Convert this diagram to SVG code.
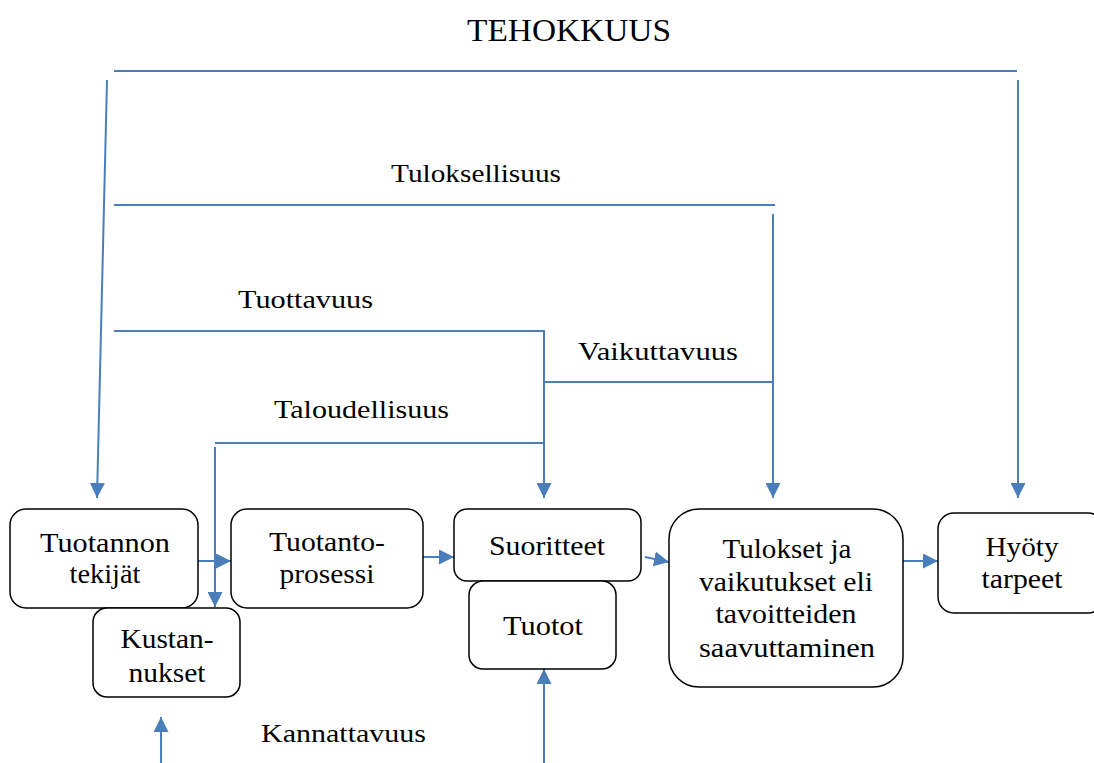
<svg xmlns="http://www.w3.org/2000/svg" width="1094" height="763" viewBox="0 0 1094 763">
  <style>
    .ln { stroke: #4a7ebb; stroke-width: 2; fill: none; }
    .box { fill: #ffffff; stroke: #000000; stroke-width: 1.5; }
    text { font-family: "Liberation Serif", "DejaVu Serif", serif; fill: #000000; }
    .lbl { font-size: 26px; }
    .nt { font-size: 27px; text-anchor: middle; }
    .title { font-size: 32px; }
  </style>
  <defs>
    <marker id="arr" viewBox="0 0 15 15" refX="15" refY="7.5" markerWidth="15" markerHeight="15" markerUnits="userSpaceOnUse" orient="auto">
      <path d="M0,0 L15,7.5 L0,15 Z" fill="#4a7ebb"/>
    </marker>
  </defs>

  <rect width="1094" height="763" fill="#ffffff"/>

  <!-- measure labels -->
  <g id="labels">
    <text class="title" x="467" y="41" textLength="204" lengthAdjust="spacingAndGlyphs">TEHOKKUUS</text>
    <text class="lbl" x="391" y="182" textLength="170" lengthAdjust="spacingAndGlyphs">Tuloksellisuus</text>
    <text class="lbl" x="238" y="308" textLength="135" lengthAdjust="spacingAndGlyphs">Tuottavuus</text>
    <text class="lbl" x="578" y="360" textLength="160" lengthAdjust="spacingAndGlyphs">Vaikuttavuus</text>
    <text class="lbl" x="274" y="418" textLength="175" lengthAdjust="spacingAndGlyphs">Taloudellisuus</text>
    <text class="lbl" x="261" y="742" textLength="165" lengthAdjust="spacingAndGlyphs">Kannattavuus</text>
  </g>

  <!-- connectors -->
  <g id="connectors">
    <!-- Tehokkuus -->
    <line class="ln" x1="114" y1="71" x2="1017" y2="71"/>
    <line class="ln" x1="107" y1="80" x2="97" y2="498" marker-end="url(#arr)"/>
    <line class="ln" x1="1018" y1="80" x2="1018" y2="498" marker-end="url(#arr)"/>
    <!-- Tuloksellisuus -->
    <line class="ln" x1="114" y1="205" x2="775" y2="205"/>
    <line class="ln" x1="773" y1="214" x2="773" y2="498" marker-end="url(#arr)"/>
    <!-- Tuottavuus -->
    <polyline class="ln" points="114,331 544,331 544,498" marker-end="url(#arr)"/>
    <!-- Vaikuttavuus -->
    <line class="ln" x1="544" y1="382" x2="773" y2="382"/>
    <!-- Taloudellisuus -->
    <line class="ln" x1="215" y1="443" x2="544" y2="443"/>
    <line class="ln" x1="215" y1="447" x2="215" y2="607" marker-end="url(#arr)"/>
    <!-- process flow -->
    <line class="ln" x1="198" y1="561" x2="231" y2="561" marker-end="url(#arr)"/>
    <line class="ln" x1="423" y1="557" x2="454" y2="557" marker-end="url(#arr)"/>
    <line class="ln" x1="645" y1="557" x2="669" y2="562" marker-end="url(#arr)"/>
    <line class="ln" x1="903" y1="561" x2="938" y2="561" marker-end="url(#arr)"/>
    <!-- Kannattavuus -->
    <line class="ln" x1="161" y1="763" x2="161" y2="717" marker-end="url(#arr)"/>
    <line class="ln" x1="544" y1="763" x2="544" y2="669" marker-end="url(#arr)"/>
  </g>

  <g id="tuotannon-tekijat">
    <rect class="box" x="10" y="509" width="188" height="99" rx="16"/>
    <text class="nt" x="105" y="552" textLength="130" lengthAdjust="spacingAndGlyphs">Tuotannon</text>
    <text class="nt" x="105" y="583" textLength="71" lengthAdjust="spacingAndGlyphs">tekijät</text>
  </g>

  <g id="tuotantoprosessi">
    <rect class="box" x="231" y="509" width="192" height="99" rx="16"/>
    <text class="nt" x="327" y="551" textLength="116" lengthAdjust="spacingAndGlyphs">Tuotanto-</text>
    <text class="nt" x="327" y="583" textLength="95" lengthAdjust="spacingAndGlyphs">prosessi</text>
  </g>

  <g id="kustannukset">
    <rect class="box" x="93" y="608" width="147" height="89" rx="14"/>
    <text class="nt" x="167" y="648" textLength="93" lengthAdjust="spacingAndGlyphs">Kustan-</text>
    <text class="nt" x="167" y="682" textLength="77" lengthAdjust="spacingAndGlyphs">nukset</text>
  </g>

  <g id="suoritteet">
    <rect class="box" x="454" y="509" width="187" height="72" rx="13"/>
    <text class="nt" x="547" y="555" textLength="116" lengthAdjust="spacingAndGlyphs">Suoritteet</text>
  </g>

  <g id="tuotot">
    <rect class="box" x="469" y="581" width="147" height="88" rx="14"/>
    <text class="nt" x="543" y="635" textLength="80" lengthAdjust="spacingAndGlyphs">Tuotot</text>
  </g>

  <g id="tulokset">
    <rect class="box" x="669" y="509" width="234" height="178" rx="30"/>
    <text class="nt" x="787" y="558" textLength="129" lengthAdjust="spacingAndGlyphs">Tulokset ja</text>
    <text class="nt" x="786" y="591" textLength="174" lengthAdjust="spacingAndGlyphs">vaikutukset eli</text>
    <text class="nt" x="786" y="623" textLength="141" lengthAdjust="spacingAndGlyphs">tavoitteiden</text>
    <text class="nt" x="787" y="657" textLength="176" lengthAdjust="spacingAndGlyphs">saavuttaminen</text>
  </g>

  <g id="hyoty">
    <rect class="box" x="938" y="513" width="166" height="100" rx="16"/>
    <text class="nt" x="1022" y="556" textLength="73" lengthAdjust="spacingAndGlyphs">Hyöty</text>
    <text class="nt" x="1022" y="588" textLength="81" lengthAdjust="spacingAndGlyphs">tarpeet</text>
  </g>
</svg>
